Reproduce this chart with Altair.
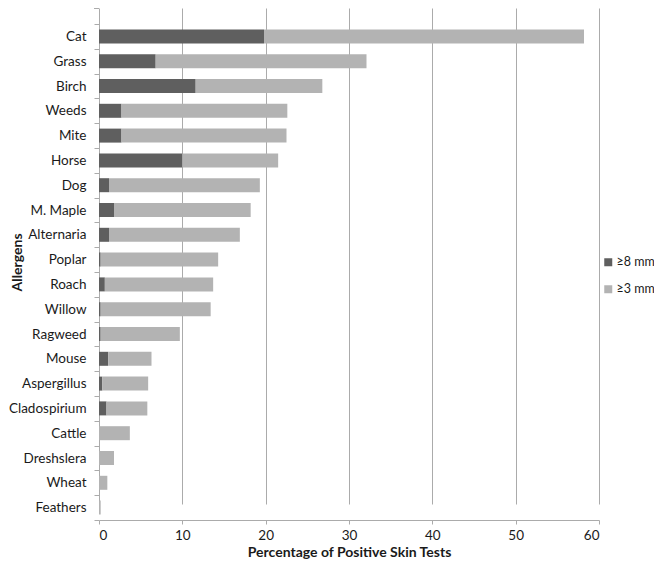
import altair as alt
import pandas as pd

allergens = ["Cat", "Grass", "Birch", "Weeds", "Mite", "Horse", "Dog", "M. Maple",
             "Alternaria", "Poplar", "Roach", "Willow", "Ragweed", "Mouse",
             "Aspergillus", "Cladospirium", "Cattle", "Dreshslera", "Wheat", "Feathers"]
# percentage with wheal >= 8 mm (dark segment)
strong = [19.8, 6.8, 11.6, 2.7, 2.7, 10.0, 1.2, 1.8, 1.2, 0.2,
          0.7, 0.2, 0.2, 1.1, 0.4, 0.9, 0.0, 0.0, 0.0, 0.0]
# percentage with wheal >= 3 mm (bar end)
total = [58.2, 32.1, 26.8, 22.6, 22.5, 21.5, 19.3, 18.2, 16.9, 14.3,
         13.7, 13.4, 9.7, 6.3, 5.9, 5.8, 3.7, 1.8, 1.0, 0.2]
series = ["≥8 mm", "≥3 mm"]
x_ticks = [0, 10, 20, 30, 40, 50, 60]

rows = []
for a, s, t in zip(allergens, strong, total):
    rows.append({"allergen": a, "series": series[0], "value": s, "ord": 0})
    rows.append({"allergen": a, "series": series[1], "value": round(t - s, 2), "ord": 1})
df = pd.DataFrame(rows)

FONT = "Lato, 'Open Sans', sans-serif"
TXT = "#1a1a1a"
GRID = "#ababab"

bars = alt.Chart(df).mark_bar(size=14).encode(
    x=alt.X("value:Q", stack="zero",
            scale=alt.Scale(domain=[0, 60], nice=False),
            axis=alt.Axis(values=x_ticks, title="Percentage of Positive Skin Tests",
                          grid=True, gridColor=GRID, gridWidth=1,
                          domainColor=GRID, tickColor=GRID, tickSize=4,
                          labelFontSize=13.5, labelColor=TXT, labelPadding=4,
                          titleFontSize=14, titleFontWeight="bold", titleColor=TXT,
                          titlePadding=4)),
    y=alt.Y("allergen:N", sort=allergens,
            scale=alt.Scale(domain=allergens, range=[16, 512], paddingInner=0, paddingOuter=0),
            axis=alt.Axis(title="Allergens", domain=False, grid=False,
                          tickBand="extent", tickSize=5, tickColor=GRID,
                          labelFontSize=13.5, labelColor=TXT, labelPadding=8,
                          titleFontSize=14, titleFontWeight="bold", titleColor=TXT,
                          titleX=-82, titleY=254, titleAlign="center",
                          titleBaseline="middle", titleAngle=270)),
    color=alt.Color("series:N",
                    scale=alt.Scale(domain=series, range=["#5f5f5f", "#b3b3b3"]),
                    legend=alt.Legend(title=None, orient="none", legendX=503, legendY=248,
                                      symbolType="square", symbolSize=64,
                                      symbolStrokeWidth=0, labelFontSize=12.5,
                                      labelColor=TXT, labelOffset=2, rowPadding=14,
                                      padding=0)),
    order=alt.Order("ord:Q"),
)

top_tick = alt.Chart(pd.DataFrame({"a": [0]})).mark_rule(color=GRID).encode(
    x=alt.value(-5), x2=alt.value(0), y=alt.value(0.5)
)

chart = alt.layer(bars, top_tick).properties(
    width=500, height=512,
    autosize=alt.AutoSizeParams(type="none"),
    padding={"left": 91, "top": 0, "right": 55, "bottom": 39},
).configure(font=FONT).configure_view(stroke=None)

chart.save("out.html", embed_options={"renderer": "svg", "actions": False})
